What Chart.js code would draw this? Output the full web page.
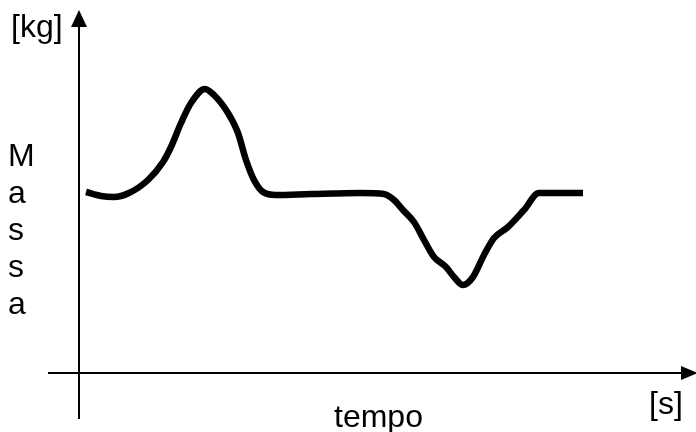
<!DOCTYPE html>
<html>
<head>
<meta charset="utf-8">
<script src="https://cdn.jsdelivr.net/npm/chart.js@4"></script>
<style>
    body { margin: 0; background: #fff; }
    #wrap { position: relative; width: 696px; height: 432px; }
    .lbl { position: absolute; font-family: "Liberation Sans", Arial, sans-serif; font-size: 32px; line-height: 32px; color: #000; white-space: nowrap; }
    #massa { line-height: 37px; text-align: left; }
</style>
</head>
<body>
<div id="wrap">
    <canvas id="massChart" width="696" height="432"></canvas>
    <div class="lbl" style="left:11px; top:10px;">[kg]</div>
    <div class="lbl" id="massa" style="left:8px; top:137px;">M<br>a<br>s<br>s<br>a</div>
    <div class="lbl" style="left:334px; top:400px;">tempo</div>
    <div class="lbl" style="left:649px; top:387px;">[s]</div>
</div>
<script>
// time [s] and mass [kg]
const tempo = [0.7, 2.2, 3.5, 5.0, 6.9, 8.4, 9.2, 10.2, 11.2, 12.6, 13.5, 14.9, 15.9, 16.7, 17.5, 18.4,
    19.7, 23.2, 28.2, 30.5, 31.5, 32.4, 33.5, 34.5, 35.5, 36.7, 37.5, 38.4, 39.4, 40.5, 41.5, 42.9,
    44.5, 46.0, 47.2, 50.4];
const massa = [18.1, 17.7, 17.6, 18.0, 19.3, 21.1, 22.6, 25.0, 27.0, 28.4, 27.8, 26.0, 24.0, 21.3, 19.3, 18.1,
    17.8, 17.9, 18.0, 17.9, 17.3, 16.3, 15.1, 13.3, 11.6, 10.6, 9.6, 8.8, 9.6, 11.8, 13.5, 14.6,
    16.3, 18.0, 18.0, 18.0];

// hand drawn style axes with arrow heads
const arrowAxes = {
    id: 'arrowAxes',
    beforeDatasetsDraw(chart) {
        const { ctx, scales: { x, y } } = chart;
        const x0 = x.getPixelForValue(0);
        const y0 = y.getPixelForValue(0);
        ctx.save();
        ctx.strokeStyle = '#000';
        ctx.fillStyle = '#000';
        ctx.lineWidth = 2;
        ctx.beginPath();
        ctx.moveTo(x0 - 31, y0);
        ctx.lineTo(x.right + 5, y0);
        ctx.moveTo(x0, y0 + 46);
        ctx.lineTo(x0, y.top + 12);
        ctx.stroke();
        // x arrow
        ctx.beginPath();
        ctx.moveTo(x.right + 2, y0 - 7);
        ctx.lineTo(x.right + 19, y0);
        ctx.lineTo(x.right + 2, y0 + 7);
        ctx.closePath();
        ctx.fill();
        // y arrow
        ctx.beginPath();
        ctx.moveTo(x0 - 8, y.top + 14);
        ctx.lineTo(x0, y.top - 3);
        ctx.lineTo(x0 + 8, y.top + 14);
        ctx.closePath();
        ctx.fill();
        ctx.restore();
    }
};

new Chart(document.getElementById('massChart'), {
    type: 'line',
    data: {
        datasets: [{
            data: tempo.map((t, i) => ({ x: t, y: massa[i] })),
            borderColor: '#000',
            borderWidth: 6.5,
            pointRadius: 0,
            tension: 0.4,
            cubicInterpolationMode: 'monotone',
            fill: false,
            clip: false
        }]
    },
    options: {
        responsive: false,
        animation: false,
        layout: { padding: { left: 79, right: 17, top: 13, bottom: 59 } },
        plugins: { legend: { display: false }, tooltip: { enabled: false } },
        scales: {
            x: { type: 'linear', min: 0, max: 60, display: false },
            y: { min: 0, max: 36, display: false }
        }
    },
    plugins: [arrowAxes]
});
</script>
</body>
</html>
